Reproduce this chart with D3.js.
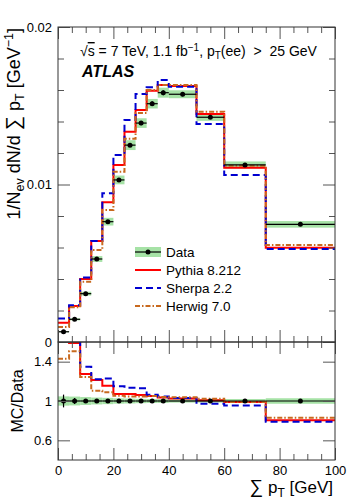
<!DOCTYPE html>
<html>
<head>
<meta charset="utf-8">
<script src="https://cdn.jsdelivr.net/npm/d3@7"></script>
<style>
  html, body { margin: 0; padding: 0; background: #fff; }
  svg text { font-family: "Liberation Sans", Arial, Helvetica, sans-serif; }
</style>
</head>
<body>
<div id="chart"></div>
<script>
// bins of sum pT [GeV]
const binEdges = [0, 4, 8, 12, 16, 20, 24, 28, 32, 36, 40, 50, 60, 75, 100];

// 1/Nev dN/d sum pT  [GeV^-1]
const dataVals    = [0.00065, 0.00144, 0.00307, 0.00527, 0.00764, 0.01029, 0.01250, 0.01390, 0.01513, 0.01583, 0.01573, 0.01427, 0.01124, 0.00747];
const dataSyst    = [0.047, 0.045, 0.04, 0.035, 0.032, 0.027, 0.025, 0.022, 0.02, 0.02, 0.016, 0.016, 0.02, 0.028]; // relative, green band
const dataStat    = [0.065, 0.03, 0.015, 0.012, 0.01, 0.01, 0.01, 0.01, 0.01, 0.01, 0.008, 0.008, 0.008, 0.01];   // relative, error bar
const pythiaVals  = [0.00123, 0.00229, 0.00400, 0.00641, 0.00887, 0.01124, 0.01335, 0.01473, 0.01596, 0.01632, 0.01625, 0.01448, 0.01107, 0.00599];
const sherpaVals  = [0.00150, 0.00233, 0.00410, 0.00641, 0.00944, 0.01187, 0.01410, 0.01575, 0.01617, 0.01663, 0.01621, 0.01384, 0.01060, 0.00590];
const herwigVals  = [0.00095, 0.00220, 0.00383, 0.00584, 0.00838, 0.01081, 0.01290, 0.01454, 0.01600, 0.01632, 0.01632, 0.01462, 0.01119, 0.00616];

// MC/Data
const pythiaRatio = [1.89, 1.59, 1.275, 1.214, 1.154, 1.07, 1.07, 1.06, 1.05, 1.035, 1.025, 1.008, 0.99, 0.805];
const sherpaRatio = [2.30, 1.61, 1.348, 1.22, 1.23, 1.15, 1.135, 1.13, 1.063, 1.045, 1.03, 0.972, 0.955, 0.79];
const herwigRatio = [1.43, 1.505, 1.245, 1.105, 1.09, 1.053, 1.045, 1.046, 1.05, 1.04, 1.037, 1.022, 0.99, 0.83];

const xMajor = [0, 20, 40, 60, 80, 100];
const xMinor = d3.range(0, 101, 5).filter(v => v % 20 !== 0);
const yMainMajor = [0, 0.01, 0.02];
const yMainMinor = d3.range(0.002, 0.02, 0.002).filter(v => Math.abs(v - 0.01) > 1e-6);
const yRatMajor = [0.6, 1, 1.4];

const legendItems = [
  { key: "data",   label: "Data" },
  { key: "pythia", label: "Pythia 8.212" },
  { key: "sherpa", label: "Sherpa 2.2" },
  { key: "herwig", label: "Herwig 7.0" }
];

const style = {
  pythia: { stroke: "#ff0000", dash: null },
  sherpa: { stroke: "#0000d0", dash: "7,4" },
  herwig: { stroke: "#c8691e", dash: "5,2,1.5,2" }
};
const BAND = "#a6e2a6";

const width = 349, height = 500;
const L = 58, R = 335, T = 27, MID = 342, B = 460;

const x = d3.scaleLinear().domain([0, 100]).range([L, R]);
const yMain = d3.scaleLinear().domain([0, 0.02]).range([MID, T]);
const yRat = d3.scaleLinear().domain([0.4, 1.6]).range([B, MID]);

const svg = d3.select("#chart").append("svg")
  .attr("width", width).attr("height", height);

const defs = svg.append("defs");
defs.append("clipPath").attr("id", "clipMain")
  .append("rect").attr("x", L).attr("y", T).attr("width", R - L).attr("height", MID - T);
defs.append("clipPath").attr("id", "clipRat")
  .append("rect").attr("x", L).attr("y", MID).attr("width", R - L).attr("height", B - MID);

const bins = d3.range(dataVals.length).map(i => ({ i, lo: binEdges[i], hi: binEdges[i + 1], c: (binEdges[i] + binEdges[i + 1]) / 2 }));

function stepPts(vals) {
  const pts = [];
  vals.forEach((v, i) => { pts.push([binEdges[i], v]); pts.push([binEdges[i + 1], v]); });
  return pts;
}

function drawPanel(g, y, mc, dvals) {
  // green uncertainty band
  g.append("g").selectAll("rect")
    .data(bins).join("rect")
    .attr("x", d => x(d.lo))
    .attr("width", d => x(d.hi) - x(d.lo))
    .attr("y", d => y(dvals[d.i] * (1 + dataSyst[d.i])))
    .attr("height", d => y(dvals[d.i] * (1 - dataSyst[d.i])) - y(dvals[d.i] * (1 + dataSyst[d.i])))
    .attr("fill", BAND);

  // MC steps
  ["pythia", "sherpa", "herwig"].forEach(k => {
    const line = d3.line().x(d => x(d[0])).y(d => y(d[1]));
    g.append("path")
      .attr("d", line(stepPts(mc[k])))
      .attr("fill", "none")
      .attr("stroke", style[k].stroke)
      .attr("stroke-width", 2)
      .attr("stroke-dasharray", style[k].dash);
  });

  // data points
  const pg = g.append("g");
  pg.selectAll("line.h").data(bins).join("line")
    .attr("x1", d => x(d.lo)).attr("x2", d => x(d.hi))
    .attr("y1", d => y(dvals[d.i])).attr("y2", d => y(dvals[d.i]))
    .attr("stroke", "#000").attr("stroke-width", 1.2);
  pg.selectAll("line.v").data(bins).join("line")
    .attr("x1", d => x(d.c)).attr("x2", d => x(d.c))
    .attr("y1", d => y(dvals[d.i] * (1 + dataStat[d.i]))).attr("y2", d => y(dvals[d.i] * (1 - dataStat[d.i])))
    .attr("stroke", "#000").attr("stroke-width", 1.2);
  pg.selectAll("circle").data(bins).join("circle")
    .attr("cx", d => x(d.c)).attr("cy", d => y(dvals[d.i]))
    .attr("r", 2.5).attr("fill", "#000");
}

const gMain = svg.append("g").attr("clip-path", "url(#clipMain)");
drawPanel(gMain, yMain, { pythia: pythiaVals, sherpa: sherpaVals, herwig: herwigVals }, dataVals);

const gRat = svg.append("g").attr("clip-path", "url(#clipRat)");
drawPanel(gRat, yRat, { pythia: pythiaRatio, sherpa: sherpaRatio, herwig: herwigRatio }, dataVals.map(() => 1));

// axes / ticks
function ticks(axis, tf) {
  return g => {
    g.call(axis);
    g.select(".domain").remove();
    g.selectAll(".tick line").attr("stroke", "#555");
    g.selectAll("text").attr("font-size", 13).attr("fill", "#000")
      .attr("font-family", "'Liberation Sans', Arial, sans-serif");
    if (tf) tf(g);
  };
}
const fmtMain = d => d === 0 ? "0" : d3.format(".2f")(d);
const fmtRat = d => d === 1 ? "1" : d3.format(".1f")(d);

// main panel
svg.append("g").attr("transform", `translate(${L},0)`)
  .call(ticks(d3.axisLeft(yMain).tickValues(yMainMajor).tickSize(-12).tickPadding(6).tickFormat(fmtMain)));
svg.append("g").attr("transform", `translate(${L},0)`)
  .call(ticks(d3.axisLeft(yMain).tickValues(yMainMinor).tickSize(-6).tickFormat("")));
svg.append("g").attr("transform", `translate(${R},0)`)
  .call(ticks(d3.axisRight(yMain).tickValues(yMainMajor).tickSize(-12).tickFormat("")));
svg.append("g").attr("transform", `translate(${R},0)`)
  .call(ticks(d3.axisRight(yMain).tickValues(yMainMinor).tickSize(-6).tickFormat("")));
[[T, d3.axisTop], [MID, d3.axisBottom]].forEach(([yy, ax]) => {
  svg.append("g").attr("transform", `translate(0,${yy})`)
    .call(ticks(ax(x).tickValues(xMajor).tickSize(-12).tickFormat("")));
  svg.append("g").attr("transform", `translate(0,${yy})`)
    .call(ticks(ax(x).tickValues(xMinor).tickSize(-6).tickFormat("")));
});

// ratio panel
svg.append("g").attr("transform", `translate(${L},0)`)
  .call(ticks(d3.axisLeft(yRat).tickValues(yRatMajor).tickSize(-12).tickPadding(6).tickFormat(fmtRat)));
svg.append("g").attr("transform", `translate(${R},0)`)
  .call(ticks(d3.axisRight(yRat).tickValues(yRatMajor).tickSize(-12).tickFormat("")));
svg.append("g").attr("transform", `translate(0,${MID})`)
  .call(ticks(d3.axisTop(x).tickValues(xMajor).tickSize(-12).tickFormat("")));
svg.append("g").attr("transform", `translate(0,${MID})`)
  .call(ticks(d3.axisTop(x).tickValues(xMinor).tickSize(-6).tickFormat("")));
svg.append("g").attr("transform", `translate(0,${B})`)
  .call(ticks(d3.axisBottom(x).tickValues(xMajor).tickSize(-12).tickPadding(6).tickFormat(d3.format("d"))));
svg.append("g").attr("transform", `translate(0,${B})`)
  .call(ticks(d3.axisBottom(x).tickValues(xMinor).tickSize(-6).tickFormat("")));

// frames
svg.append("rect").attr("x", L).attr("y", T).attr("width", R - L).attr("height", MID - T)
  .attr("fill", "none").attr("stroke", "#333");
svg.append("rect").attr("x", L).attr("y", MID).attr("width", R - L).attr("height", B - MID)
  .attr("fill", "none").attr("stroke", "#333");

// titles
const yt = svg.append("text")
  .attr("transform", `translate(20,28) rotate(-90)`)
  .attr("text-anchor", "end").attr("font-size", 18);
yt.append("tspan").text("1/N");
yt.append("tspan").attr("dy", 4).attr("font-size", 12.5).text("ev");
yt.append("tspan").attr("dy", -4).text(" dN/d ");
yt.append("tspan").attr("font-size", 20).text("∑");
yt.append("tspan").text(" p");
yt.append("tspan").attr("dy", 4).attr("font-size", 12.5).text("T");
yt.append("tspan").attr("dy", -4).text(" [GeV");
yt.append("tspan").attr("dy", -7).attr("font-size", 12.5).text("−1");
yt.append("tspan").attr("dy", 7).text("]");

svg.append("text")
  .attr("transform", `translate(23,${(MID + B) / 2}) rotate(-90)`)
  .attr("text-anchor", "middle").attr("font-size", 16).text("MC/Data");

const xt = svg.append("text").attr("x", 333).attr("y", 493)
  .attr("text-anchor", "end").attr("font-size", 17);
xt.append("tspan").attr("font-size", 19).text("∑");
xt.append("tspan").text(" p");
xt.append("tspan").attr("dy", 4).attr("font-size", 12).text("T");
xt.append("tspan").attr("dy", -4).text(" [GeV]");

// labels
const info = svg.append("text").attr("x", 80).attr("y", 56).attr("font-size", 14);
info.append("tspan").text("√");
info.append("tspan").style("text-decoration", "overline").text("s");
info.append("tspan").text(" = 7 TeV, 1.1 fb");
info.append("tspan").attr("dy", -5).attr("font-size", 10).text("−1");
info.append("tspan").attr("dy", 5).text(", p");
info.append("tspan").attr("dy", 3).attr("font-size", 10).text("T");
info.append("tspan").attr("dy", -3).attr("xml:space", "preserve").text("(ee)  >  25 GeV");

svg.append("text").attr("x", 82).attr("y", 77)
  .attr("font-size", 16).attr("font-weight", "bold").attr("font-style", "italic")
  .text("ATLAS");

// legend
const lg = svg.append("g");
const rowY = [252, 270, 288, 306];
const sx0 = 135, sx1 = 161;
legendItems.forEach((it, i) => {
  const yy = rowY[i];
  if (it.key === "data") {
    lg.append("rect").attr("x", sx0).attr("y", yy - 5).attr("width", sx1 - sx0).attr("height", 10).attr("fill", BAND);
    lg.append("line").attr("x1", sx0).attr("x2", sx1).attr("y1", yy).attr("y2", yy).attr("stroke", "#000").attr("stroke-width", 1.2);
    lg.append("circle").attr("cx", (sx0 + sx1) / 2).attr("cy", yy).attr("r", 2.5).attr("fill", "#000");
  } else {
    lg.append("line").attr("x1", sx0).attr("x2", sx1).attr("y1", yy).attr("y2", yy)
      .attr("stroke", style[it.key].stroke).attr("stroke-width", 2)
      .attr("stroke-dasharray", style[it.key].dash);
  }
  lg.append("text").attr("x", 166).attr("y", yy + 5).attr("font-size", 13.5).text(it.label);
});
</script>
</body>
</html>
